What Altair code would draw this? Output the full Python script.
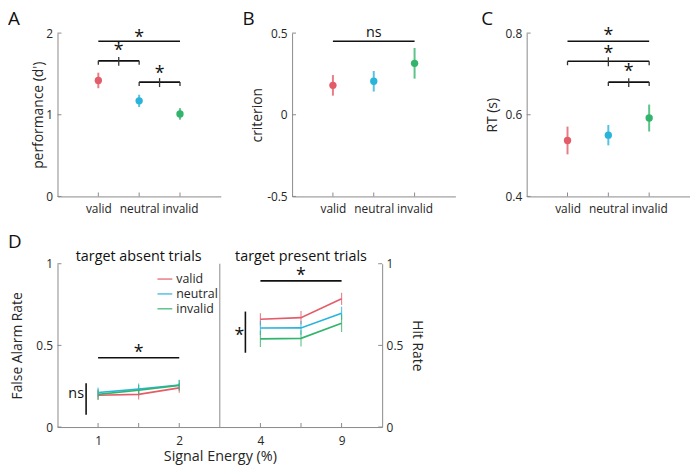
import altair as alt
import pandas as pd

FONT = "Open Sans"
INK = "#262626"
AXC = "#8a8a8a"

# ---------------- shared categories ----------------
conds = ["valid", "neutral", "invalid"]
cond_pos = [1, 2, 3]
colors = ["#e45c69", "#2ab4dc", "#33b46c"]
top_x_domain = [0, 4]
panel_letters = ["A", "B", "C", "D"]

# ---------------- panel A: performance (d') ----------------
A_mean = [1.42, 1.17, 1.01]
A_err = [0.095, 0.075, 0.07]
A_ydomain = [0, 2]
A_yticks = [0, 1, 2]
A_yticklabels = ["0", "1", "2"]
A_sig_x1 = [1, 1, 2]
A_sig_x2 = [3, 2, 3]
A_sig_y = [1.90, 1.66, 1.40]
A_sig_text_y = [1.98, 1.82, 1.54]
A_sig_text = ["*", "*", "*"]
A_sig_bracket = [False, True, True]

# ---------------- panel B: criterion ----------------
B_mean = [0.18, 0.205, 0.315]
B_err = [0.063, 0.063, 0.094]
B_ydomain = [-0.5, 0.5]
B_yticks = [-0.5, 0, 0.5]
B_yticklabels = ["-0.5", "0", "0.5"]
B_sig_x1 = [1]
B_sig_x2 = [3]
B_sig_y = [0.45]
B_sig_text_y = [0.5]
B_sig_text = ["ns"]
B_sig_bracket = [False]

# ---------------- panel C: RT ----------------
C_mean = [0.537, 0.550, 0.592]
C_err = [0.034, 0.025, 0.033]
C_ydomain = [0.4, 0.8]
C_yticks = [0.4, 0.6, 0.8]
C_yticklabels = ["0.4", "0.6", "0.8"]
C_sig_x1 = [1, 1, 2]
C_sig_x2 = [3, 3, 3]
C_sig_y = [0.780, 0.731, 0.680]
C_sig_text_y = [0.800, 0.757, 0.711]
C_sig_text = ["*", "*", "*"]
C_sig_bracket = [False, True, True]

# ---------------- panel D: FA / hit rates ----------------
D_x_domain = [0, 8]
D_split = [4]
D_ydomain = [0, 1]
D_yticks = [0, 0.5, 1]
D_yticklabels = ["0", "0.5", "1"]
D_absent_x = [1, 2, 3]
D_present_x = [5, 6, 7]
D_xticks = [1, 2, 3, 5, 6, 7]
D_xticklabels = ["1", "", "2", "4", "", "9"]
D_absent_valid = [0.195, 0.200, 0.240]
D_absent_neutral = [0.212, 0.232, 0.257]
D_absent_invalid = [0.200, 0.225, 0.255]
D_absent_err_valid = [0.030, 0.032, 0.030]
D_absent_err_neutral = [0.030, 0.035, 0.032]
D_absent_err_invalid = [0.032, 0.033, 0.032]
D_present_valid = [0.660, 0.670, 0.785]
D_present_neutral = [0.606, 0.607, 0.697]
D_present_invalid = [0.540, 0.543, 0.636]
D_present_err_valid = [0.037, 0.040, 0.037]
D_present_err_neutral = [0.042, 0.042, 0.040]
D_present_err_invalid = [0.050, 0.050, 0.054]
D_trial_titles = ["target absent trials", "target present trials"]
D_trial_centers = [2, 6]
D_sig_x1 = [1, 5]
D_sig_x2 = [3, 7]
D_sig_y = [0.424, 0.895]
D_sig_text_y = [0.47, 0.943]
D_sig_text = ["*", "*"]
D_vsig_x = [0.705, 4.63]
D_vsig_y1 = [0.076, 0.455]
D_vsig_y2 = [0.268, 0.707]
D_vsig_text_x = [0.46, 4.48]
D_vsig_text_y = [0.20, 0.576]
D_vsig_text = ["ns", "*"]

W = 165
H = 165
WD = 328
STAR_SIZE = 18
STAR_DY = 3


def lab_expr(vals, labs):
    s = ""
    for v, l in zip(vals, labs):
        s += f"abs(datum.value - ({v})) < 1e-6 ? '{l}' : "
    return s + "''"


color_scale = alt.Scale(domain=conds, range=colors)


def top_panel(letter, mean, err, ydomain, yticks, yticklabels, ytitle, title_x,
              sx1, sx2, sy, sty, stext, sbr, letter_dx):
    xax = alt.Axis(values=cond_pos, labelExpr=lab_expr(cond_pos, conds), title=None,
                   labelOverlap=False, labelPadding=7)
    yax = alt.Axis(values=yticks, labelExpr=lab_expr(yticks, yticklabels), title=ytitle,
                   titleX=title_x, titleY=H / 2, titleBaseline="middle", labelPadding=5)
    xs = alt.Scale(domain=top_x_domain, nice=False, zero=False)
    ys = alt.Scale(domain=ydomain, nice=False, zero=False)

    def X(f):
        return alt.X(f, type="quantitative", scale=xs, axis=xax)

    def Y(f):
        return alt.Y(f, type="quantitative", scale=ys, axis=yax)

    df = pd.DataFrame({"x": cond_pos, "cond": conds, "m": mean,
                       "lo": [m - e for m, e in zip(mean, err)],
                       "hi": [m + e for m, e in zip(mean, err)]})
    col = alt.Color("cond:N", scale=color_scale, legend=None)

    ytk = pd.DataFrame({"x": [top_x_domain[0]] * len(yticks), "y": yticks})
    xtk = pd.DataFrame({"x": cond_pos, "y": [ydomain[0]] * len(cond_pos)})
    sig = pd.DataFrame({"x1": sx1, "x2": sx2, "y": sy, "ty": sty, "t": stext, "br": sbr})
    sig["xm"] = (sig["x1"] + sig["x2"]) / 2
    br = sig[sig["br"]]
    ends = pd.DataFrame({"x": list(br["x1"]) + list(br["x2"]), "y": list(br["y"]) * 2})
    stars = sig[sig["t"] == "*"]
    ns = sig[sig["t"] != "*"]

    layers = [
        alt.Chart(ytk).mark_tick(orient="horizontal", size=4, thickness=1, xOffset=2,
                                 color=AXC, opacity=1).encode(x=X("x"), y=Y("y")),
        alt.Chart(xtk).mark_tick(orient="vertical", size=4, thickness=1, yOffset=-2,
                                 color=AXC, opacity=1).encode(x=X("x"), y=Y("y")),
        alt.Chart(df).mark_rule(strokeWidth=2, opacity=0.8).encode(
            x=X("x"), y=Y("lo"), y2="hi", color=col),
        alt.Chart(df).mark_circle(size=55, opacity=1).encode(x=X("x"), y=Y("m"), color=col),
        alt.Chart(sig).mark_rule(strokeWidth=1.6, color="#111111").encode(
            x=X("x1"), x2="x2", y=Y("y")),
    ]
    if len(br):
        layers.append(alt.Chart(ends).mark_tick(orient="vertical", size=4, thickness=1.3,
                                                yOffset=2, color="#333333", opacity=1)
                      .encode(x=X("x"), y=Y("y")))
        layers.append(alt.Chart(br).mark_tick(orient="vertical", size=9, thickness=1.3,
                                              yOffset=0.5, color="#333333", opacity=1)
                      .encode(x=X("xm"), y=Y("y")))
    if len(stars):
        layers.append(alt.Chart(stars).mark_text(fontSize=STAR_SIZE, dy=STAR_DY,
                                                 baseline="middle", color="#111111")
                      .encode(x=X("xm"), y=Y("ty"), text="t:N"))
    if len(ns):
        layers.append(alt.Chart(ns).mark_text(fontSize=14.5, baseline="middle",
                                              color="#111111")
                      .encode(x=X("xm"), y=Y("ty"), text="t:N"))
    layers.append(alt.Chart(pd.DataFrame({"t": [letter]})).mark_text(
        fontSize=19, align="left", baseline="top", color="#111111").encode(
        x=alt.value(letter_dx), y=alt.value(-23), text="t:N"))
    return alt.layer(*layers).properties(width=W, height=H)


A = top_panel(panel_letters[0], A_mean, A_err, A_ydomain, A_yticks, A_yticklabels,
              "performance (d')", -19, A_sig_x1, A_sig_x2, A_sig_y, A_sig_text_y,
              A_sig_text, A_sig_bracket, -50)
B = top_panel(panel_letters[1], B_mean, B_err, B_ydomain, B_yticks, B_yticklabels,
              "criterion", -35, B_sig_x1, B_sig_x2, B_sig_y, B_sig_text_y,
              B_sig_text, B_sig_bracket, -50)
C = top_panel(panel_letters[2], C_mean, C_err, C_ydomain, C_yticks, C_yticklabels,
              "RT (s)", -34, C_sig_x1, C_sig_x2, C_sig_y, C_sig_text_y,
              C_sig_text, C_sig_bracket, -46)

# ---------------- panel D ----------------
rows = []
for cond, vals, errs in [("valid", D_absent_valid, D_absent_err_valid),
                         ("neutral", D_absent_neutral, D_absent_err_neutral),
                         ("invalid", D_absent_invalid, D_absent_err_invalid)]:
    for x, v, e in zip(D_absent_x, vals, errs):
        rows.append({"x": x, "v": v, "lo": v - e, "hi": v + e, "cond": cond, "trial": "absent"})
for cond, vals, errs in [("valid", D_present_valid, D_present_err_valid),
                         ("neutral", D_present_neutral, D_present_err_neutral),
                         ("invalid", D_present_invalid, D_present_err_invalid)]:
    for x, v, e in zip(D_present_x, vals, errs):
        rows.append({"x": x, "v": v, "lo": v - e, "hi": v + e, "cond": cond, "trial": "present"})
ddf = pd.DataFrame(rows)

dxs = alt.Scale(domain=D_x_domain, nice=False, zero=False)
dys = alt.Scale(domain=D_ydomain, nice=False, zero=False)
dxax = alt.Axis(values=D_xticks, labelExpr=lab_expr(D_xticks, D_xticklabels),
                title="Signal Energy (%)", labelPadding=9, titlePadding=3,
                titleFontSize=14.5, labelOverlap=False)
dyax_left = alt.Axis(values=D_yticks, labelExpr=lab_expr(D_yticks, D_yticklabels),
                     title="False Alarm Rate", titleX=-40, titleY=H / 2,
                     titleBaseline="middle", labelPadding=5, orient="left",
                     labelColor=INK, titleColor=INK)
dyax_right = alt.Axis(values=D_yticks, labelExpr=lab_expr(D_yticks, D_yticklabels),
                      title="Hit Rate", titleX=35, titleY=H / 2, titleBaseline="middle",
                      labelPadding=4, orient="right", labelColor=INK, titleColor=INK)


def DX(f):
    return alt.X(f, type="quantitative", scale=dxs, axis=dxax)


def DY(f, axis=None):
    return alt.Y(f, type="quantitative", scale=dys, axis=axis)


dleg = alt.Legend(orient="none", legendX=100, legendY=7, title=None, symbolType="stroke",
                  symbolSize=225, symbolStrokeWidth=1.6, labelFontSize=12.5, labelFont=FONT,
                  labelColor=INK, labelOffset=3, rowPadding=-2, padding=0)
dcol = alt.Color("cond:N", scale=color_scale, legend=dleg)

d_ytk_left = pd.DataFrame({"x": [D_x_domain[0]] * len(D_yticks), "y": D_yticks})
d_ytk_right = pd.DataFrame({"x": [D_x_domain[1]] * len(D_yticks), "y": D_yticks})
d_xtk = pd.DataFrame({"x": D_xticks, "y": [D_ydomain[0]] * len(D_xticks)})
d_split = pd.DataFrame({"x": D_split, "y1": [D_ydomain[0]], "y2": [D_ydomain[1]]})
d_sig = pd.DataFrame({"x1": D_sig_x1, "x2": D_sig_x2, "y": D_sig_y, "ty": D_sig_text_y,
                      "t": D_sig_text})
d_sig["xm"] = (d_sig["x1"] + d_sig["x2"]) / 2
d_vsig = pd.DataFrame({"x": D_vsig_x, "y1": D_vsig_y1, "y2": D_vsig_y2,
                       "tx": D_vsig_text_x, "ty": D_vsig_text_y, "t": D_vsig_text})
d_titles = pd.DataFrame({"x": D_trial_centers, "t": D_trial_titles})

D = alt.layer(
    alt.Chart(d_ytk_left).mark_tick(orient="horizontal", size=4, thickness=1, xOffset=2,
                                    color=AXC, opacity=1)
    .encode(x=DX("x"), y=DY("y", dyax_left)),
    alt.Chart(d_ytk_right).mark_tick(orient="horizontal", size=4, thickness=1, xOffset=-2,
                                     color=AXC, opacity=1)
    .encode(x=DX("x"), y=DY("y", dyax_right)),
    alt.Chart(d_xtk).mark_tick(orient="vertical", size=4, thickness=1, yOffset=-2,
                               color=AXC, opacity=1)
    .encode(x=DX("x"), y=DY("y")),
    alt.Chart(d_split).mark_rule(color=AXC, strokeWidth=1).encode(x=DX("x"), y=DY("y1"), y2="y2"),
    alt.Chart(ddf).mark_rule(strokeWidth=1.2, opacity=0.75).encode(
        x=DX("x"), y=DY("lo"), y2="hi", color=dcol),
    alt.Chart(ddf).mark_line(strokeWidth=1.6).encode(
        x=DX("x"), y=DY("v"), color=dcol, detail="trial:N"),
    alt.Chart(d_sig).mark_rule(strokeWidth=1.6, color="#111111").encode(
        x=DX("x1"), x2="x2", y=DY("y")),
    alt.Chart(d_sig).mark_text(fontSize=STAR_SIZE, dy=STAR_DY, baseline="middle",
                               color="#111111").encode(
        x=DX("xm"), y=DY("ty"), text="t:N"),
    alt.Chart(d_vsig).mark_rule(strokeWidth=1.6, color="#111111").encode(
        x=DX("x"), y=DY("y1"), y2="y2"),
    alt.Chart(d_vsig[d_vsig["t"] == "*"]).mark_text(fontSize=STAR_SIZE, dy=STAR_DY,
                                                   baseline="middle", color="#111111").encode(
        x=DX("tx"), y=DY("ty"), text="t:N"),
    alt.Chart(d_vsig[d_vsig["t"] != "*"]).mark_text(fontSize=14.5, baseline="middle",
                                                   color="#111111").encode(
        x=DX("tx"), y=DY("ty"), text="t:N"),
    alt.Chart(d_titles).mark_text(fontSize=14.5, baseline="middle", color="#111111").encode(
        x=DX("x"), y=alt.value(-7), text="t:N"),
    alt.Chart(pd.DataFrame({"t": [panel_letters[3]]})).mark_text(
        fontSize=19, align="left", baseline="alphabetic", color="#111111").encode(
        x=alt.value(-50), y=alt.value(-16), text="t:N"),
).resolve_axis(y="independent").properties(width=WD, height=H)

top = alt.hconcat(A, B, C, spacing=72, bounds="flush").resolve_scale(
    color="independent").resolve_legend(color="independent")

chart = alt.vconcat(top, D, spacing=19).properties(padding=0).resolve_scale(
    color="independent").resolve_legend(color="independent").configure_view(
    stroke=None
).configure_axis(
    labelFont=FONT, titleFont=FONT, labelFontSize=12, titleFontSize=14,
    titleFontWeight="normal", labelColor=INK, titleColor=INK, domainColor=AXC,
    domainWidth=1, ticks=False, tickSize=0, grid=False
).configure_text(font=FONT)

chart.save("out.html", embed_options={"renderer": "svg", "actions": False})
